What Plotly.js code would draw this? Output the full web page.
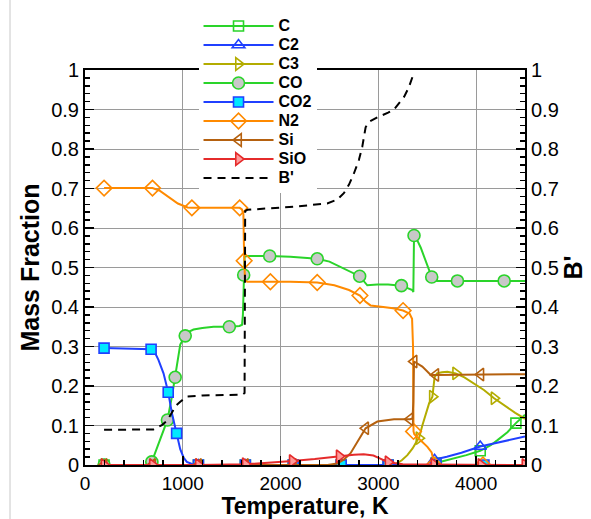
<!DOCTYPE html>
<html>
<head>
<meta charset="utf-8">
<script src="https://cdn.plot.ly/plotly-3.0.1.min.js"></script>
<style>
  html, body { margin: 0; padding: 0; background: #fff; }
  #chart { width: 591px; height: 519px; }
</style>
</head>
<body>
<div id="chart"></div>
<script>
// Equilibrium surface composition vs. temperature (mass fractions) with B' on the right axis.

// ---- curves (temperature in K, mass fraction) ----
const C_T   = [195, 3540, 3570, 3680, 3775, 3900, 4042, 4150, 4219, 4320, 4407, 4500];
const C_Y   = [0, 0, 0.004, 0.011, 0.017, 0.025, 0.036, 0.050, 0.063, 0.083, 0.106, 0.127];
const C_mT  = [195, 690, 1160, 1640, 2130, 2620, 3100, 3590, 4042, 4407];
const C_mY  = [0, 0, 0, 0, 0, 0, 0, 0.005, 0.036, 0.106];

const C2_T  = [195, 3540, 3560, 3580, 3700, 3850, 4042, 4200, 4350, 4500];
const C2_Y  = [0, 0, 0.008, 0.014, 0.021, 0.031, 0.047, 0.056, 0.065, 0.072];
const C2_mT = [195, 690, 1160, 1640, 2130, 2620, 3100, 3575, 4042];
const C2_mY = [0, 0, 0, 0, 0, 0, 0, 0.013, 0.047];

const C3_T  = [195, 3150, 3176, 3240, 3297, 3350, 3400, 3416, 3450, 3484, 3519, 3553, 3565, 3575, 3600, 3650, 3706, 3791, 3880, 3980, 4080, 4184, 4300, 4400, 4500];
const C3_Y  = [0, 0, 0.002, 0.012, 0.025, 0.042, 0.063, 0.068, 0.100, 0.131, 0.156, 0.173, 0.205, 0.222, 0.232, 0.235, 0.236, 0.232, 0.222, 0.207, 0.190, 0.169, 0.148, 0.132, 0.117];
const C3_mT = [195, 690, 1160, 1640, 2130, 2620, 3100, 3416, 3553, 3791, 4184];
const C3_mY = [0, 0, 0, 0, 0, 0, 0, 0.068, 0.173, 0.232, 0.169];

const CO_T  = [195, 632, 683, 768, 843, 889, 922, 974, 1025, 1060, 1110, 1200, 1315, 1476, 1580, 1606, 1615, 1623, 1632, 1660, 1889, 2100, 2375, 2500, 2614, 2809, 2887, 2990, 3100, 3236, 3348, 3358, 3365, 3400, 3434, 3470, 3502, 3536, 3546, 3570, 3600, 3809, 4287, 4500];
const CO_Y  = [0, 0, 0.008, 0.063, 0.114, 0.173, 0.222, 0.305, 0.327, 0.337, 0.343, 0.347, 0.350, 0.350, 0.352, 0.355, 0.380, 0.481, 0.527, 0.529, 0.529, 0.527, 0.522, 0.515, 0.502, 0.478, 0.455, 0.457, 0.457, 0.454, 0.443, 0.438, 0.581, 0.568, 0.550, 0.527, 0.507, 0.482, 0.476, 0.468, 0.466, 0.466, 0.466, 0.466];
const CO_mT = [195, 683, 843, 922, 1025, 1476, 1623, 1889, 2375, 2809, 3236, 3365, 3546, 3809, 4287];
const CO_mY = [0, 0.008, 0.114, 0.222, 0.327, 0.350, 0.481, 0.529, 0.522, 0.478, 0.454, 0.581, 0.476, 0.466, 0.466];

const CO2_T  = [195, 676, 720, 751, 803, 851, 889, 937, 974, 1010, 1042, 1100, 1160, 4500];
const CO2_Y  = [0.296, 0.293, 0.282, 0.266, 0.232, 0.184, 0.131, 0.080, 0.040, 0.018, 0.008, 0.002, 0, 0];
const CO2_mT = [195, 676, 851, 937, 1160, 1640, 2130, 2620, 3100, 3590, 4080];
const CO2_mY = [0.296, 0.293, 0.184, 0.080, 0, 0, 0, 0, 0, 0, 0];

const N2_T  = [195, 690, 760, 850, 950, 1050, 1093, 1300, 1582, 1605, 1620, 1625, 1628, 1636, 1660, 1896, 2100, 2375, 2550, 2700, 2812, 2870, 2920, 3050, 3150, 3253, 3320, 3345, 3355, 3360, 3368, 3400, 3460, 3502, 3545, 3556, 3562, 4500];
const N2_Y  = [0.701, 0.701, 0.695, 0.680, 0.662, 0.652, 0.651, 0.651, 0.651, 0.647, 0.635, 0.560, 0.517, 0.467, 0.464, 0.464, 0.464, 0.462, 0.455, 0.443, 0.429, 0.413, 0.404, 0.400, 0.397, 0.391, 0.383, 0.370, 0.300, 0.085, 0.078, 0.070, 0.056, 0.046, 0.032, 0.020, 0, 0];
const N2_mT = [195, 690, 1093, 1582, 1628, 1896, 2375, 2812, 3253, 3360, 3570, 4070];
const N2_mY = [0.701, 0.701, 0.651, 0.651, 0.517, 0.464, 0.462, 0.429, 0.391, 0.085, 0, 0];

const Si_T  = [195, 2480, 2580, 2650, 2716, 2819, 2870, 2990, 3160, 3324, 3350, 3358, 3365, 3450, 3536, 3587, 4048, 4500];
const Si_Y  = [0, 0, 0.004, 0.014, 0.030, 0.072, 0.093, 0.110, 0.116, 0.116, 0.118, 0.160, 0.262, 0.249, 0.228, 0.228, 0.229, 0.230];
const Si_mT = [195, 690, 1160, 1640, 2130, 2870, 3324, 3365, 3587, 4048];
const Si_mY = [0, 0, 0, 0, 0, 0.093, 0.116, 0.262, 0.228, 0.229];

const SiO_T  = [195, 1160, 1640, 1900, 2120, 2350, 2600, 2750, 2850, 2950, 3020, 3100, 3250, 3500, 4500];
const SiO_Y  = [0, 0, 0.002, 0.006, 0.010, 0.015, 0.022, 0.026, 0.027, 0.024, 0.016, 0.007, 0.002, 0.001, 0];
const SiO_mT = [195, 690, 1160, 1640, 2120, 2600, 3100, 3570, 4050, 4500];
const SiO_mY = [0, 0, 0, 0.002, 0.010, 0.022, 0.007, 0.001, 0, 0];

// B' (right axis)
const Bp_T = [195, 700, 786, 830, 854, 890, 930, 974, 1042, 1200, 1400, 1610, 1632, 1638, 1660, 1800, 2135, 2477, 2580, 2647, 2700, 2750, 2801, 2836, 2870, 2900, 2990, 3100, 3160, 3263, 3310, 3360];
const Bp_Y = [0.089, 0.090, 0.101, 0.110, 0.118, 0.135, 0.150, 0.160, 0.173, 0.176, 0.177, 0.178, 0.182, 0.643, 0.646, 0.648, 0.654, 0.662, 0.672, 0.688, 0.710, 0.738, 0.772, 0.806, 0.855, 0.868, 0.880, 0.892, 0.900, 0.932, 0.955, 0.990];

const xTickVals = [0, 1000, 2000, 3000, 4000];

// ---- styles ----
const GREEN = '#2ad42a', BLUE = '#2040ff', OLIVE = '#b3ac00', ORANGE = '#ff8a00',
      BROWN = '#b5610f', RED = '#e52b2b';

const species = [
  { name: 'C',   T: C_T,   Y: C_Y,   mT: C_mT,   mY: C_mY,   color: GREEN,  symbol: 'square',         fill: 'rgba(0,0,0,0)', size: 10 },
  { name: 'C2',  T: C2_T,  Y: C2_Y,  mT: C2_mT,  mY: C2_mY,  color: BLUE,   symbol: 'triangle-up',    fill: 'rgba(0,0,0,0)', size: 11 },
  { name: 'C3',  T: C3_T,  Y: C3_Y,  mT: C3_mT,  mY: C3_mY,  color: OLIVE,  symbol: 'triangle-right', fill: 'rgba(0,0,0,0)', size: 11 },
  { name: 'CO',  T: CO_T,  Y: CO_Y,  mT: CO_mT,  mY: CO_mY,  color: GREEN,  symbol: 'circle',         fill: '#c8c8c8',       size: 12 },
  { name: 'CO2', T: CO2_T, Y: CO2_Y, mT: CO2_mT, mY: CO2_mY, color: BLUE,   symbol: 'square',         fill: '#00e8ff',       size: 10 },
  { name: 'N2',  T: N2_T,  Y: N2_Y,  mT: N2_mT,  mY: N2_mY,  color: ORANGE, symbol: 'diamond',        fill: 'rgba(0,0,0,0)', size: 12 },
  { name: 'Si',  T: Si_T,  Y: Si_Y,  mT: Si_mT,  mY: Si_mY,  color: BROWN,  symbol: 'triangle-left',  fill: 'rgba(0,0,0,0)', size: 11 },
  { name: 'SiO', T: SiO_T, Y: SiO_Y, mT: SiO_mT, mY: SiO_mY, color: RED,    symbol: 'triangle-right', fill: '#ff9a9a',       size: 11 }
];

// legend labels are set a little larger than the row pitch font
const legendLabel = s => '<span style="font-size:16px">' + s + '</span>';

const traces = [];
// curves and their symbols
species.forEach(s => {
  traces.push({
    x: s.T, y: s.Y, type: 'scatter', mode: 'lines', showlegend: false,
    line: { color: s.color, width: 2 }, hoverinfo: 'skip'
  });
  traces.push({
    x: s.mT, y: s.mY, type: 'scatter', mode: 'markers', showlegend: false,
    marker: { symbol: s.symbol, size: s.size, color: s.fill, line: { color: s.color, width: 1.6 } }
  });
});
traces.push({
  x: Bp_T, y: Bp_Y, yaxis: 'y2', type: 'scatter', mode: 'lines', showlegend: false,
  line: { color: '#000', width: 2, dash: '8px,6px' }
});
// legend entries
species.forEach(s => {
  traces.push({
    x: [null], y: [null], type: 'scatter', mode: 'lines+markers', name: legendLabel(s.name),
    line: { color: s.color, width: 2 },
    marker: { symbol: s.symbol, size: s.size, color: s.fill, line: { color: s.color, width: 1.6 } }
  });
});
traces.push({
  x: [null], y: [null], yaxis: 'y2', type: 'scatter', mode: 'lines', name: legendLabel("B'"),
  line: { color: '#000', width: 2, dash: '8px,6px' }
});

const FONT = 'Liberation Sans, Arial, sans-serif';
const axisCommon = {
  ticks: 'inside', ticklen: 9, tickwidth: 1.5, tickcolor: '#000',
  showline: true, linewidth: 2, linecolor: '#000',
  zeroline: false, tickfont: { family: FONT, size: 20, color: '#000' }
};
const titleFont = { family: FONT, size: 25, weight: 'bold', color: '#000' };

const layout = {
  width: 591, height: 519,
  margin: { l: 85, r: 66, t: 70, b: 54 },
  paper_bgcolor: '#fff', plot_bgcolor: '#fff',
  font: { family: FONT, color: '#000' },
  showlegend: true,
  legend: {
    x: 0.258, y: 1.148, xanchor: 'left', yanchor: 'top',
    bgcolor: '#fff', borderwidth: 0, itemwidth: 70,
    font: { family: FONT, size: 12, color: '#000', weight: 'bold' },
    tracegroupgap: 0
  },
  xaxis: Object.assign({}, axisCommon, {
    range: [0, 4500], tickvals: xTickVals, mirror: true,
    tickfont: { family: FONT, size: 19, color: '#000' },
    showgrid: true, gridcolor: '#9a9a9a', gridwidth: 1,
    minor: { dtick: 200, ticks: 'inside', ticklen: 5, tickcolor: '#000', showgrid: false },
    title: { text: 'Temperature, K', font: Object.assign({}, titleFont, { size: 23 }), standoff: 4 }
  }),
  yaxis: Object.assign({}, axisCommon, {
    range: [0, 1], dtick: 0.1, tick0: 0,
    showgrid: true, gridcolor: '#9a9a9a', gridwidth: 1,
    minor: { dtick: 0.02, ticks: 'inside', ticklen: 5, tickcolor: '#000', showgrid: false },
    title: { text: 'Mass Fraction', font: titleFont, standoff: 4 }
  }),
  yaxis2: Object.assign({}, axisCommon, {
    overlaying: 'y', side: 'right', range: [0, 1], dtick: 0.1, tick0: 0,
    showgrid: false,
    minor: { dtick: 0.02, ticks: 'inside', ticklen: 5, tickcolor: '#000', showgrid: false },
    title: { text: "B'", font: titleFont, standoff: 7 }
  }),
  shapes: [{
    type: 'line', xref: 'paper', yref: 'paper',
    x0: (10 - 85) / 440, x1: (10 - 85) / 440, y0: -54 / 395, y1: 1 + 70 / 395,
    line: { color: '#c8c8c8', width: 1 }
  }]
};

Plotly.newPlot('chart', traces, layout, { displayModeBar: false, staticPlot: true });
</script>
</body>
</html>
